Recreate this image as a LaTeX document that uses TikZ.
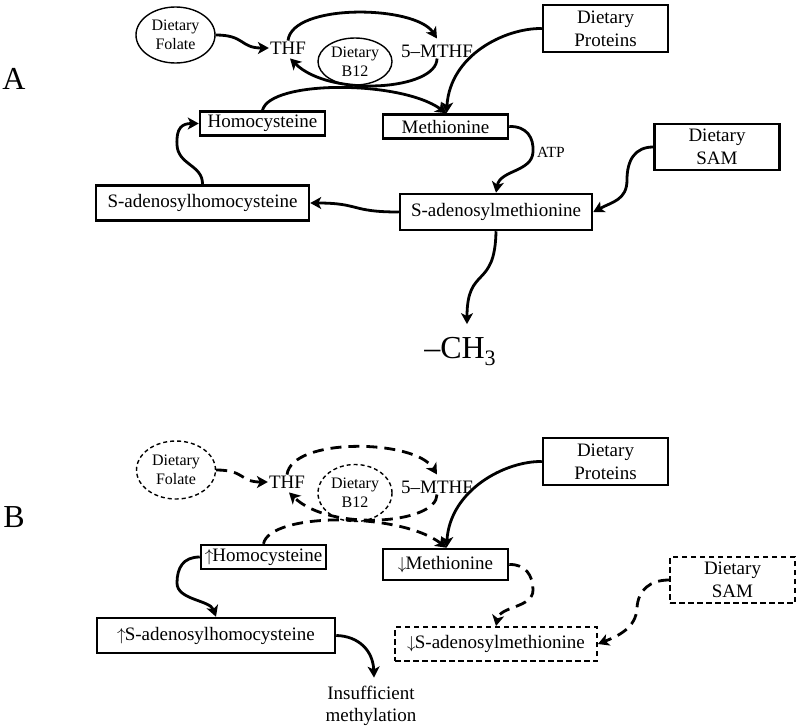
\documentclass[tikz,border=0pt]{standalone}
\usepackage{fontspec}
\setmainfont{Liberation Serif}
\usetikzlibrary{arrows.meta,shapes.geometric}
\newcommand{\upar}{\ensuremath{\uparrow}\kern-1pt}
\newcommand{\dnar}{\ensuremath{\downarrow}\kern-1pt}
\begin{document}
\begin{tikzpicture}[x=1pt,y=-1pt,
  font=\fontsize{19}{23}\selectfont,
  box/.style={draw, line width=2.5pt, inner sep=0pt, minimum width=125pt, minimum height=24pt, align=center},
  dbox/.style={box, line width=1.9pt, dash pattern=on 5.5pt off 3.5pt},
  ell/.style={draw, ellipse, line width=1.4pt, inner sep=0pt, align=center, font=\fontsize{16}{19}\selectfont},
  dell/.style={ell, dash pattern=on 4pt off 3pt},
  txt/.style={inner sep=1pt},
  arr/.style={line width=2.8pt, -{Stealth[length=11pt,width=12pt,inset=3pt]}},
  darr/.style={arr, dash pattern=on 11pt off 7pt},
  lbl/.style={inner sep=0pt, font=\fontsize{32}{36}\selectfont}
]
\useasboundingbox[fill=white] (0,0) rectangle (800,726);

% ---------------- Panel A ----------------
\node[lbl] (labA) at (14,79) {A};
\node[ell, minimum width=79pt, minimum height=56pt] (folA) at (175.5,35) {Dietary\\Folate};
\node[txt] (thfA) at (288,48) {THF};
\node[ell, minimum width=74pt, minimum height=47pt] (b12A) at (355,61.5) {Dietary\\B12};
\node[txt] (mthfA) at (437,51) {5–MTHF};
\node[box] (homA) at (262.5,123.5) {Homocysteine};
\node[box] (metA) at (445.5,126.5) {Methionine};
\node[box, minimum height=47pt] (protA) at (605.5,28.5) {Dietary\\Proteins};
\node[box, minimum height=46pt] (samdA) at (717,147) {Dietary\\SAM};
\node[box, minimum width=192pt, minimum height=36pt] (samA) at (496,212) {S-adenosylmethionine};
\node[box, minimum width=213pt, minimum height=35pt] (sahA) at (202.5,203) {S-adenosylhomocysteine};
\node[txt, font=\fontsize{32}{36}\selectfont] (ch3) at (460,351.5) {–CH\raisebox{-7pt}{\fontsize{22}{24}\selectfont 3}};
\node[txt, font=\fontsize{15.5}{18}\selectfont] (atp) at (551,152) {ATP};

\draw[arr] (folA.east) .. controls (245,35) and (240,48) .. (thfA.west);
\draw[arr] (thfA.north) .. controls (292,3) and (415,5) .. ([yshift=5pt]mthfA.north);
\draw[arr] (mthfA.south) .. controls (437,90) and (330,98) .. ([yshift=-3pt,xshift=2pt]thfA.south);
\draw[arr] (homA.north) .. controls (270,80) and (400,80) .. ([xshift=1pt]metA.north);
\draw[arr] (protA.west) .. controls (505,28) and (450,55) .. ([xshift=1pt]metA.north);
\draw[arr] (metA.east) .. controls (527,126) and (534,138) .. (533,152)
           .. controls (532,172) and (500,170) .. (samA.north);
\draw[arr] (samdA.west) .. controls (635,147) and (627,160) .. (627,180)
           .. controls (627,200) and (612,202) .. (samA.east);
\draw[arr] (samA.west) .. controls (350,212) and (360,203) .. (sahA.east);
\draw[arr] (sahA.north) .. controls (203,165) and (178,165) .. (177,145)
           .. controls (176,128) and (182,123.5) .. (homA.west);
\draw[arr] (samA.south) .. controls (495,290) and (467,265) .. ([xshift=7pt,yshift=12pt]ch3.north);

% ---------------- Panel B ----------------
\node[lbl] (labB) at (14,517) {B};
\node[dell, minimum width=79pt, minimum height=58pt] (folB) at (176,470) {Dietary\\Folate};
\node[txt] (thfB) at (287,482) {THF};
\node[dell, minimum width=74pt, minimum height=57pt] (b12B) at (355,493) {Dietary\\B12};
\node[txt] (mthfB) at (437,487) {5–MTHF};
\node[box] (homB) at (263.5,557) {\upar Homocysteine};
\node[box, minimum height=31pt] (metB) at (445.5,564.5) {\dnar Methionine};
\node[box, minimum height=47pt] (protB) at (605.5,461.5) {Dietary\\Proteins};
\node[dbox, minimum height=46pt] (samdB) at (732.5,580) {Dietary\\SAM};
\node[dbox, minimum width=202pt, minimum height=34pt] (samB) at (496,644) {\dnar S-adenosylmethionine};
\node[box, minimum width=238pt, minimum height=35pt] (sahB) at (216,635.5) {\upar S-adenosylhomocysteine};
\node[txt, align=center, font=\fontsize{19}{22}\selectfont] (insB) at (371,705.5) {Insufficient\\methylation};

\draw[darr] (folB.east) .. controls (245,470) and (240,482) .. (thfB.west);
\draw[darr] (thfB.north) .. controls (292,437) and (415,439) .. ([yshift=5pt]mthfB.north);
\draw[darr] (mthfB.south) .. controls (437,524) and (330,532) .. ([yshift=-3pt,xshift=2pt]thfB.south);
\draw[darr] (homB.north) .. controls (270,512) and (400,512) .. ([xshift=1pt]metB.north);
\draw[arr] (protB.west) .. controls (505,461) and (450,490) .. ([xshift=1pt]metB.north);
\draw[darr] (metB.east) .. controls (525,564) and (533,575) .. (533,590)
            .. controls (533,608) and (500,606) .. (samB.north);
\draw[darr] (samdB.west) .. controls (650,580) and (638,590) .. (637,608)
            .. controls (636,628) and (618,636) .. (samB.east);
\draw[arr] (homB.west) .. controls (183,557) and (177,568) .. (177,583)
           .. controls (177,600) and (210,600) .. (sahB.north);
\draw[arr] (sahB.east) .. controls (358,636) and (373,650) .. ([xshift=3pt,yshift=7pt]insB.north);
\end{tikzpicture}
\end{document}
